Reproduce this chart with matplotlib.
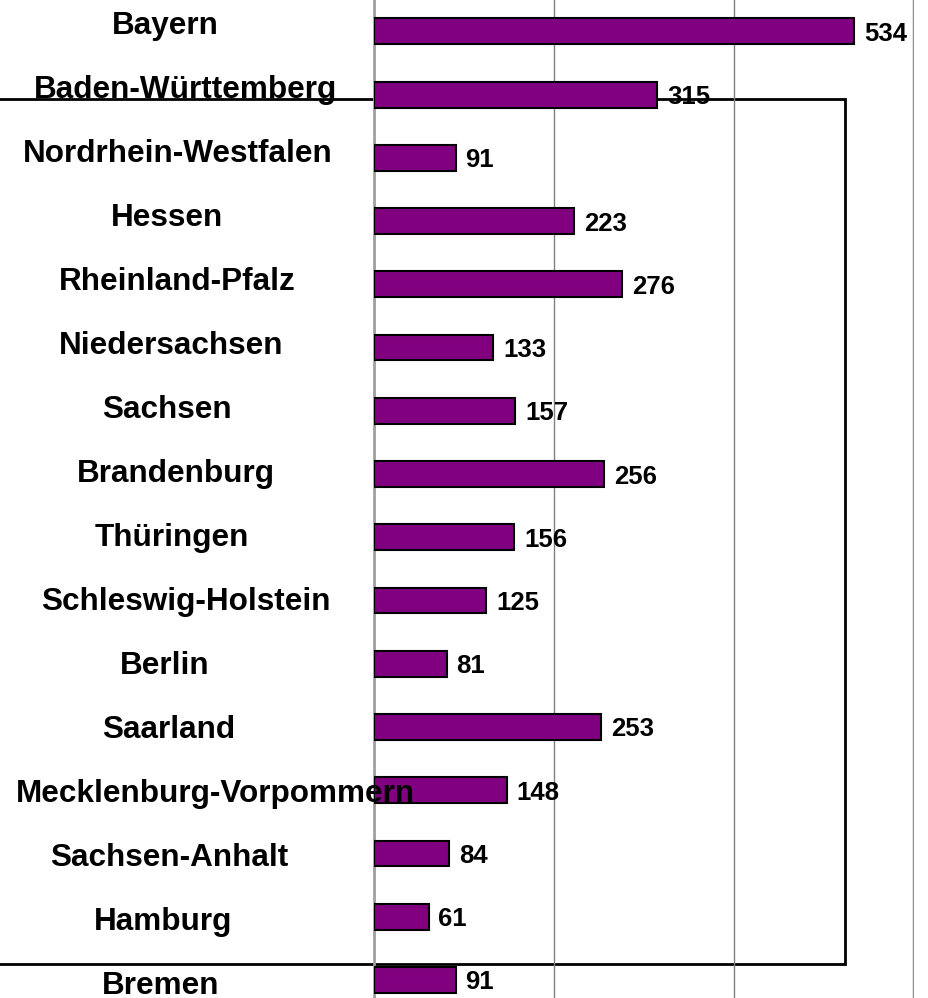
import matplotlib.pyplot as plt
import matplotlib.transforms as mtransforms
from matplotlib.patches import Rectangle

# data
states = ["Bayern", "Baden-Württemberg", "Nordrhein-Westfalen", "Hessen",
          "Rheinland-Pfalz", "Niedersachsen", "Sachsen", "Brandenburg",
          "Thüringen", "Schleswig-Holstein", "Berlin", "Saarland",
          "Mecklenburg-Vorpommern", "Sachsen-Anhalt", "Hamburg", "Bremen"]
values = [534, 315, 91, 223, 276, 133, 157, 256, 156, 125, 81, 253, 148, 84, 61, 91]
x_ticks = [0, 200, 400, 600]

# layout: horizontal centre of each state label (pixels in the figure)
label_centre_px = [165, 186, 178, 167, 177, 171, 167, 176,
                   172, 186, 165, 169, 215, 169, 163, 161]

W, H = 929, 998
plt.rcParams['font.family'] = ['Liberation Sans', 'DejaVu Sans']
fig = plt.figure(figsize=(W / 100, H / 100), dpi=100)

ax = fig.add_axes([373.7 / W, 0, 540 / W, 1])
ax.set_facecolor('none')

ypos = list(range(len(states)))
ax.barh(ypos, values, height=0.41, color='#800080', edgecolor='black',
        linewidth=1.5, zorder=3)

ax.set_xlim(0, 600)
ax.set_ylim(15.285, -0.495)
ax.set_xticks(x_ticks)
ax.set_yticks([])
ax.tick_params(length=0, labelbottom=False)
ax.grid(axis='x', color='#808080', linewidth=1, zorder=0)
for side in ['top', 'bottom', 'right']:
    ax.spines[side].set_visible(False)
ax.spines['left'].set_color('#a0a0a0')
ax.spines['left'].set_linewidth(2)
ax.axvline(600, color='#909090', linewidth=2.5, zorder=1)

# value labels
for y, v in zip(ypos, values):
    ax.text(v + 11, y, str(v), ha='left', va='center_baseline',
            fontsize=18.5, fontweight='bold', zorder=5)

# state names, placed left of the axis
trans = mtransforms.blended_transform_factory(fig.transFigure, ax.transData)
for y, name, cx in zip(ypos, states, label_centre_px):
    ax.text(cx / W, y * 1.012 - 0.134, name, transform=trans,
            ha='center', va='center_baseline', fontsize=22.7,
            fontweight='bold', zorder=6, clip_on=False)

# stray frame from the original slide
frame = Rectangle((-0.01, 1 - 963.5 / H), 845.3 / W + 0.01, (963.5 - 99.3) / H,
                  transform=fig.transFigure, fill=False, edgecolor='black',
                  linewidth=2, zorder=-1)
fig.add_artist(frame)

fig.savefig('out.png', dpi=100)
